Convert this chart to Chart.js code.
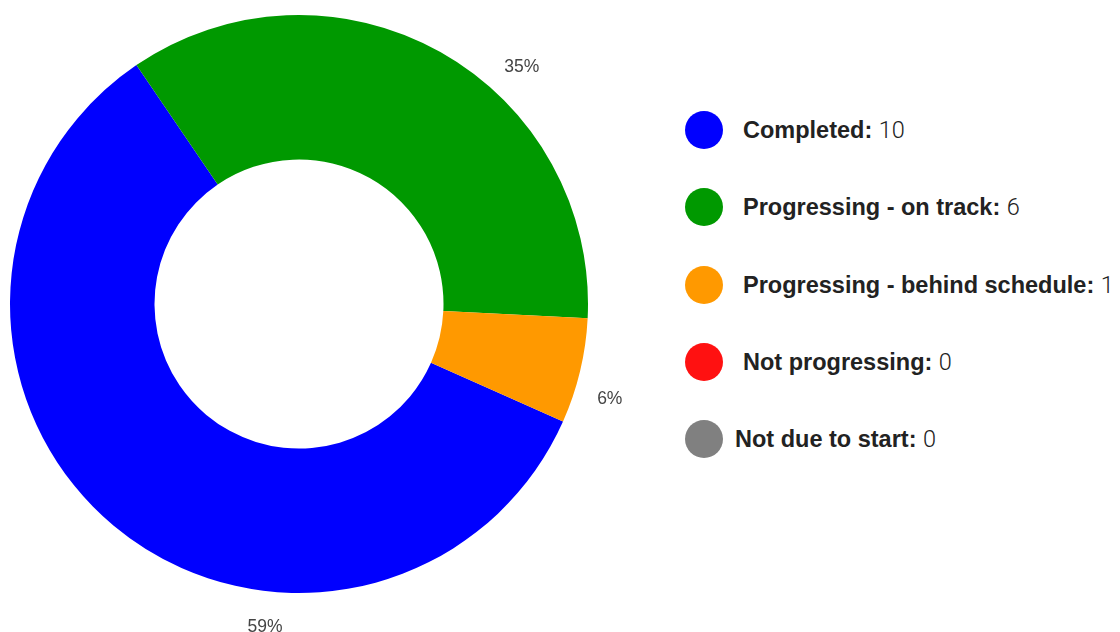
<!DOCTYPE html>
<html>
<head>
<meta charset="utf-8">
<script src="https://cdn.jsdelivr.net/npm/chart.js@4/dist/chart.umd.min.js"></script>
<style>
  body { margin: 0; background: #fff; width: 1120px; height: 632px; overflow: hidden; position: relative; }
  #wrap { position: absolute; left: 0; top: 0; width: 640px; height: 632px; }
  #legend { position: absolute; left: 685px; top: 111px; font-family: "Liberation Sans", Arial, Helvetica, sans-serif; color: #222; white-space: nowrap; }
  .row { height: 77.3px; display: flex; align-items: flex-start; }
  .dot { width: 38px; height: 38px; border-radius: 50%; flex: none; }
  .txt { margin-left: 20px; font-size: 23.5px; line-height: 38px; }
  .txt b { font-weight: bold; }
  .txt span { font-family: Roboto, "Liberation Sans", sans-serif; font-weight: 300; }
</style>
</head>
<body>
<div id="wrap"><canvas id="canvas"></canvas></div>
<div id="legend"></div>
<script>
// data
var categories = ["Completed", "Progressing - on track", "Progressing - behind schedule", "Not progressing", "Not due to start"];
var counts = [10, 6, 1, 0, 0];
var colours = ["#0000ff", "#009900", "#ff9900", "#ff1111", "#808080"];

var total = counts.reduce(function (a, b) { return a + b; }, 0);

// html legend
var legend = document.getElementById("legend");
categories.forEach(function (name, i) {
  var row = document.createElement("div");
  row.className = "row";
  var gap = i == categories.length - 1 ? 12 : 20;
  row.innerHTML = '<div class="dot" style="background:' + colours[i] + '"></div>' +
    '<div class="txt" style="margin-left:' + gap + 'px"><b>' + name + ':</b> <span>' + counts[i] + '</span></div>';
  legend.appendChild(row);
});

// percent labels outside the ring
var outLabels = {
  id: "outLabels",
  afterDatasetsDraw: function (chart, args, opts) {
    var ctx = chart.ctx;
    var meta = chart.getDatasetMeta(0);
    ctx.save();
    ctx.font = "17.5px 'Liberation Sans', Arial, sans-serif";
    ctx.fillStyle = "#444";
    ctx.textAlign = "center";
    ctx.textBaseline = "middle";
    meta.data.forEach(function (arc, i) {
      var v = counts[i];
      if (!v) return;
      var f = opts.anchor[i];
      var a = arc.startAngle + (arc.endAngle - arc.startAngle) * f;
      var r = arc.outerRadius + opts.offset;
      ctx.fillText(Math.round(v / total * 100) + "%", arc.x + Math.cos(a) * r, arc.y + Math.sin(a) * r);
    });
    ctx.restore();
  }
};

var ctx = document.getElementById("canvas").getContext("2d");
var myChart = new Chart(ctx, {
  type: "doughnut",
  data: {
    labels: categories,
    datasets: [
      {
        data: counts,
        backgroundColor: colours,
        borderWidth: 0,
      },
    ],
  },
  plugins: [outLabels],
  options: {
    responsive: true,
    maintainAspectRatio: false,
    animation: false,
    cutout: "50%",
    rotation: 114,
    layout: {
      padding: { left: 10, right: 52, top: 15, bottom: 39 },
    },
    plugins: {
      legend: { display: false },
      tooltip: { enabled: false },
      outLabels: {
        anchor: [0.34, 0.61, 0.67, 0.5, 0.5],
        offset: 36,
      },
    },
  },
});
</script>
</body>
</html>
